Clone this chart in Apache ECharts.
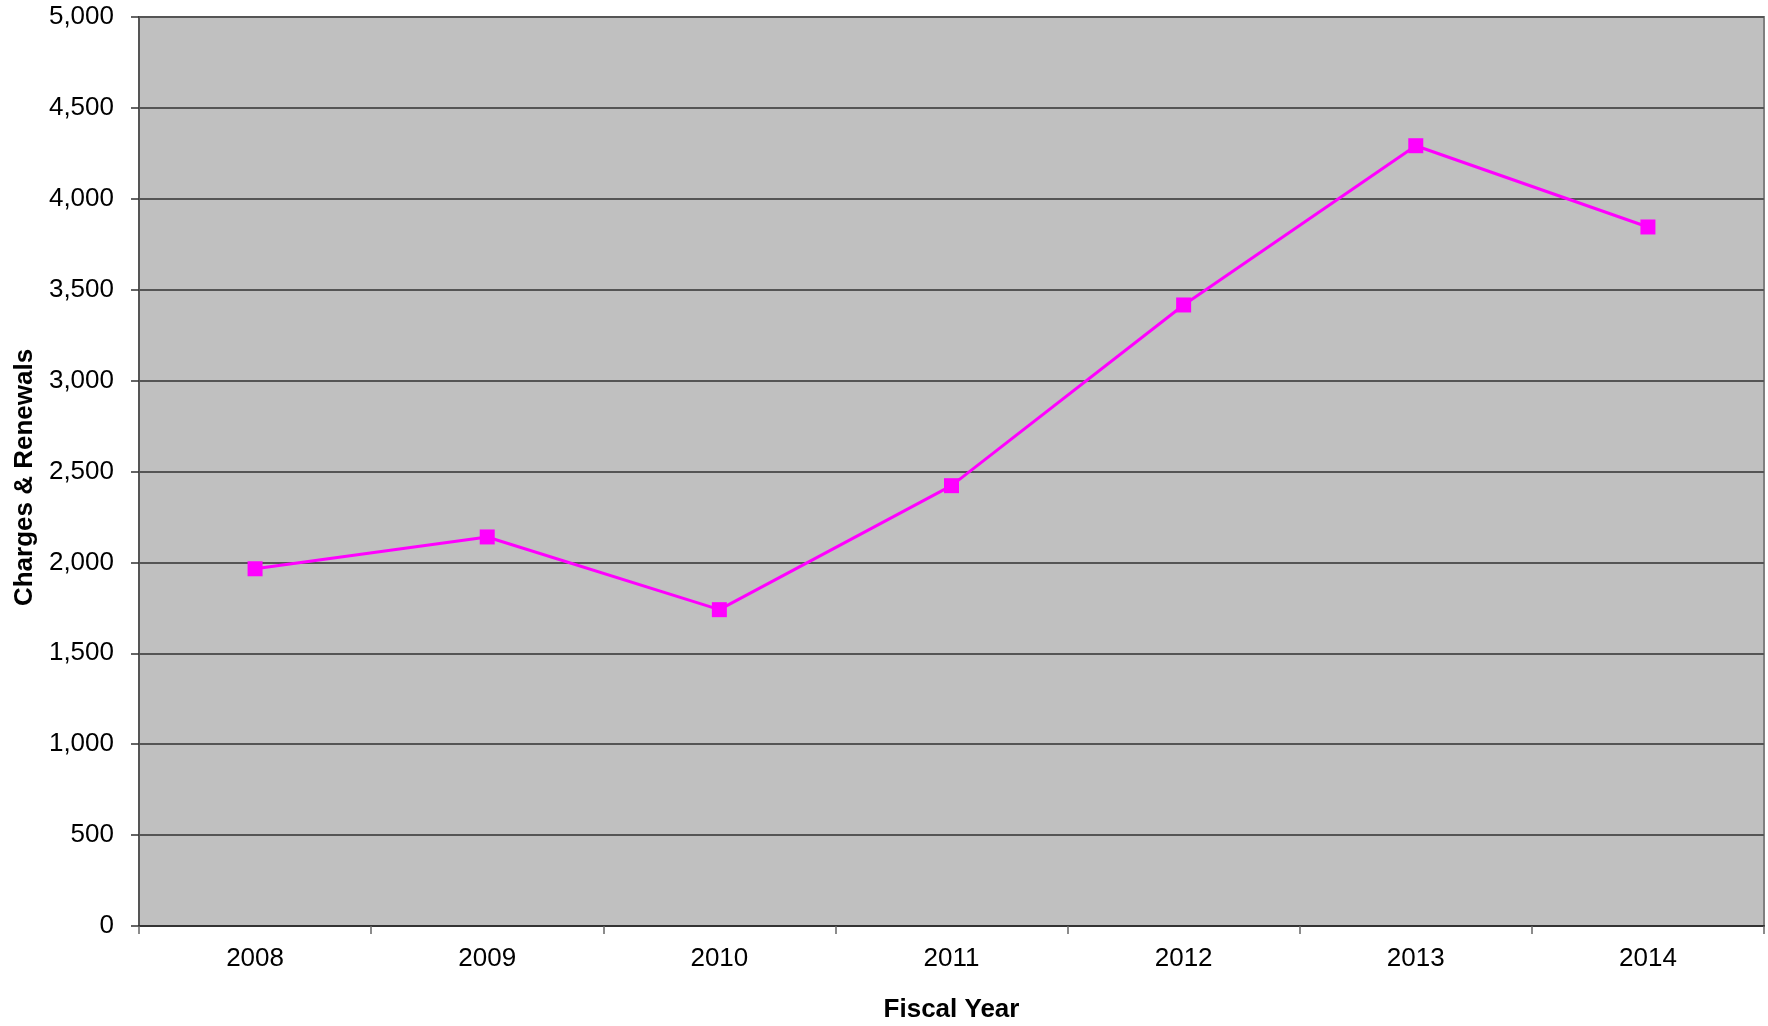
<!DOCTYPE html>
<html>
<head>
<meta charset="utf-8">
<script src="https://cdn.jsdelivr.net/npm/echarts@6/dist/echarts.min.js"></script>
<style>
html,body{margin:0;padding:0;background:#fff;}
#chart{width:1768px;height:1026px;}
</style>
</head>
<body>
<div id="chart"></div>
<script>
const categories = ['2008', '2009', '2010', '2011', '2012', '2013', '2014'];
const values = [1965, 2140, 1740, 2422, 3416, 4292, 3845];
const yTicks = { min: 0, max: 5000, interval: 500 };
const xTitle = 'Fiscal Year';
const yTitle = 'Charges & Renewals';

const font = '"Liberation Sans", Arial, sans-serif';
const chart = echarts.init(document.getElementById('chart'), null, { renderer: 'canvas' });
chart.setOption({
  animation: false,
  backgroundColor: '#ffffff',
  grid: {
    left: 139, right: 4, top: 17, bottom: 100,
    containLabel: false,
    outerBoundsMode: 'none',
    show: true, backgroundColor: '#c0c0c0', borderColor: '#808080', borderWidth: 2
  },
  xAxis: {
    type: 'category',
    data: categories,
    boundaryGap: true,
    name: xTitle,
    nameLocation: 'middle',
    nameGap: 71,
    nameTextStyle: { fontFamily: font, fontSize: 26, fontWeight: 'bold', color: '#000' },
    axisLine: { show: true, lineStyle: { color: '#333', width: 2 } },
    axisTick: { show: true, alignWithLabel: false, length: 8, lineStyle: { color: '#666', width: 1.5 } },
    axisLabel: { fontFamily: font, fontSize: 26, color: '#000', margin: 20 },
    splitLine: { show: false }
  },
  yAxis: {
    type: 'value',
    min: yTicks.min, max: yTicks.max, interval: yTicks.interval,
    name: yTitle,
    nameLocation: 'middle',
    nameGap: 100,
    nameRotate: 90,
    nameTextStyle: { fontFamily: font, fontSize: 26, fontWeight: 'bold', color: '#000', padding: [0, 12, 0, 0] },
    axisLine: { show: true, lineStyle: { color: '#555', width: 2 } },
    axisTick: { show: true, length: 8, lineStyle: { color: '#333', width: 1.5 } },
    axisLabel: {
      fontFamily: font, fontSize: 26, color: '#000', margin: 25,
      formatter: v => v.toLocaleString('en-US')
    },
    splitLine: { show: true, lineStyle: { color: '#555', width: 2 } }
  },
  series: [{
    type: 'line',
    data: values,
    symbol: 'rect',
    symbolSize: 15,
    itemStyle: { color: '#ff00ff' },
    lineStyle: { color: '#ff00ff', width: 3 }
  }]
});
</script>
</body>
</html>
